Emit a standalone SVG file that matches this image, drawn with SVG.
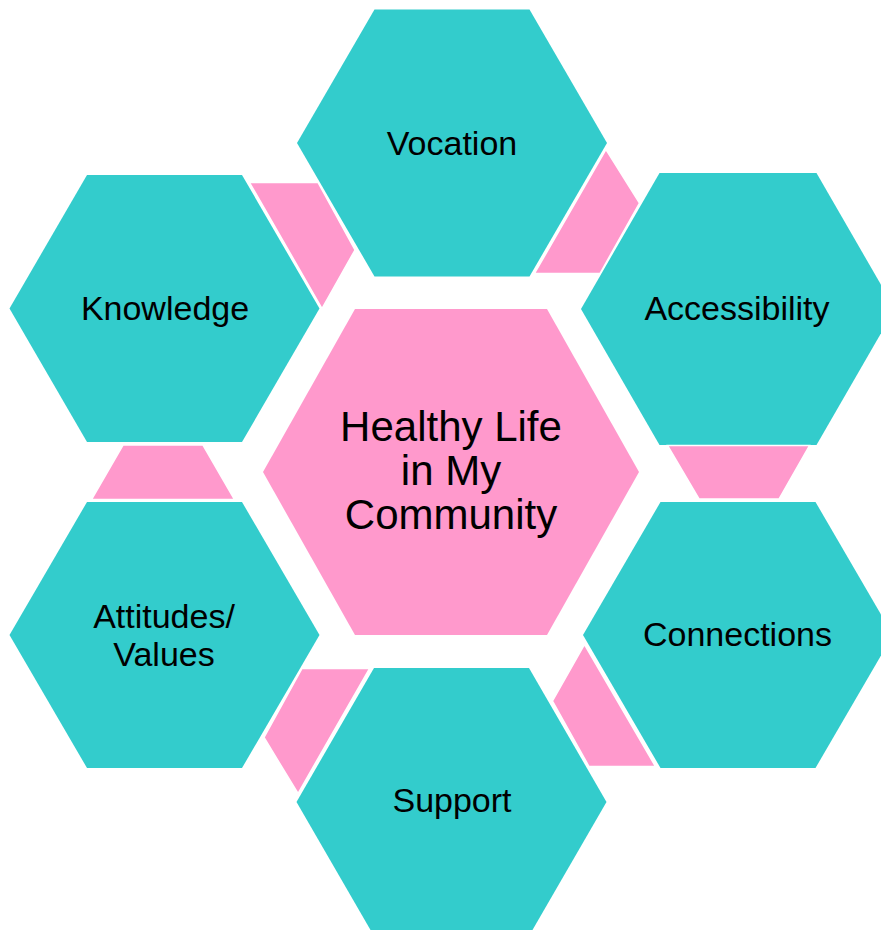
<svg xmlns="http://www.w3.org/2000/svg" width="881" height="930" viewBox="0 0 881 930">
<style>
.teal{fill:#33CCCC;}
.pink{fill:#FF99CC;}
.conn{fill:#FF99CC;stroke:#FFFFFF;stroke-width:1.5;stroke-linejoin:miter;}
.lbl{font-family:"Liberation Sans",Arial,sans-serif;font-size:34px;fill:#000000;text-anchor:middle;}
.big{font-family:"Liberation Sans",Arial,sans-serif;font-size:42px;fill:#000000;text-anchor:middle;}
</style>
<rect x="0" y="0" width="881" height="930" fill="#FFFFFF"/>
<g id="node-vocation">
<polygon class="teal" points="297,143 374.5,9.5 529.5,9.5 607,143 529.5,276.5 374.5,276.5"/>
<text class="lbl" x="452" y="155">Vocation</text>
</g>
<g id="node-knowledge">
<polygon class="teal" points="9.5,308.5 87,175 242,175 319.5,308.5 242,442 87,442"/>
<text class="lbl" x="165" y="320">Knowledge</text>
</g>
<g id="node-accessibility">
<polygon class="teal" points="581,309 659.5,173 816.5,173 895,309 816.5,445 659.5,445"/>
<text class="lbl" x="737" y="320">Accessibility</text>
</g>
<g id="node-connections">
<polygon class="teal" points="583,635 660.5,502 815.5,502 893,635 815.5,768 660.5,768"/>
<text class="lbl" x="737.5" y="646">Connections</text>
</g>
<g id="node-attitudes">
<polygon class="teal" points="9.5,635 87,502 242,502 319.5,635 242,768 87,768"/>
<text class="lbl" x="164" y="628">Attitudes/</text>
<text class="lbl" x="164" y="666">Values</text>
</g>
<g id="node-support">
<polygon class="teal" points="296.5,802 374,668 529,668 606.5,802 529,936 374,936"/>
<text class="lbl" x="452" y="812">Support</text>
</g>
<g id="node-center">
<polygon class="pink" points="263,472 355,309 547,309 639,472 547,635 355,635"/>
<text class="big" x="451" y="441">Healthy Life</text>
<text class="big" x="451" y="485">in My</text>
<text class="big" x="451" y="529">Community</text>
</g>
<g id="connectors">
<polygon class="conn" points="249.5,182.5 318,182.5 355,250 322,308.5"/>
<polygon class="conn" points="606,149.5 639.5,203 600,273.5 534.5,273.5"/>
<polygon class="conn" points="667.5,445.5 809.5,445.5 779,499 699,499"/>
<polygon class="conn" points="584.5,644.5 655.5,766.5 589,766.5 552.5,701"/>
<polygon class="conn" points="369.5,668.5 298,793.5 264,737.5 302,668.5"/>
<polygon class="conn" points="91.5,499.5 234.5,499.5 203,445 123,445"/>
</g>
</svg>
